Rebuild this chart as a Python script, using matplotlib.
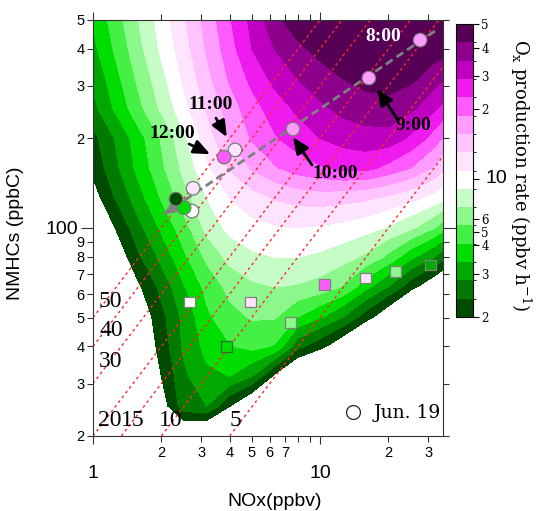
import matplotlib
matplotlib.use("Agg")
import matplotlib.pyplot as plt
import matplotlib.transforms as mtransforms
import numpy as np
from matplotlib.colors import ListedColormap, BoundaryNorm
from matplotlib.lines import Line2D
from matplotlib.ticker import FixedLocator, FixedFormatter

plt.rcParams["font.family"] = ["Liberation Sans", "DejaVu Sans"]
plt.rcParams["mathtext.fontset"] = "dejavuserif"

# grid of the isopleth field
NOX_GRID = [1.0, 1.26, 1.58, 2.0, 2.51, 3.16, 3.98, 5.01, 6.31, 7.94, 10.0, 12.6, 15.8, 20.0, 25.1, 31.6, 35.5]
NMHC_GRID = [20.0, 22.4, 25.2, 31.7, 39.9, 50.2, 63.2, 79.6, 100.2, 126.2, 158.9, 200.0, 251.8, 317.0, 399.0, 502.0]

# Ox production rate, as position on the colour scale
# (0 = 2 ppbv/h ... 16 = 50 ppbv/h, one step per colour band; below 0 = not shaded)
OX_SCALE = [
    [-8, -8, -8, -8, -8, -8, -8, -8, -8, -8, -8, -8, -8, -8, -8, -8, -8],
    [-7, -5, -3.5, -1.5, -0.1, -0.1, -1.5, -3, -4.5, -6, -7, -8, -8, -8, -8, -8, -8],
    [-6.6, -4.6, -2.6, -0.6, 1.6, 2.0, 0.05, -1.5, -3, -4.5, -6, -7, -8, -9, -10, -11, -11.5],
    [-5.4, -3.6, -1.8, 0.0, 1.8, 2.8, 3.0, 2.0, -0.3, -2, -3, -4.5, -6, -7.5, -9, -10, -10.5],
    [-4.6, -2.9, -1.2, 0.4, 2.2, 3.3, 3.9, 4.3, 3.9, 1.3, 0.3, -1, -2.5, -4, -5.5, -7, -7.5],
    [-4.1, -2.5, -0.9, 0.7, 2.3, 3.8, 4.7, 5.1, 5.1, 4.0, 3.1, 2.0, 0.5, -1.0, -2.5, -3.8, -4.5],
    [-3.4, -1.8, -0.2, 1.3, 2.9, 4.3, 5.3, 5.8, 6.0, 5.9, 5.6, 4.9, 3.3, 1.9, 0.3, -1.0, -1.8],
    [-2.3, -0.8, 0.8, 2.3, 3.8, 5.2, 6.3, 6.8, 7.0, 7.0, 6.8, 6.4, 5.8, 4.7, 3.2, 2.0, 1.2],
    [-1.5, 0.05, 1.7, 3.2, 4.6, 6.3, 7.3, 7.7, 7.9, 8.0, 7.9, 7.7, 7.4, 6.9, 6.2, 5.1, 4.3],
    [-0.5, 1.1, 2.6, 4.1, 5.6, 7.0, 8.0, 8.6, 9.1, 9.4, 9.5, 9.4, 9.2, 8.8, 8.3, 7.7, 7.2],
    [0.3, 1.8, 3.3, 4.8, 6.3, 7.8, 9.1, 10.1, 10.9, 11.5, 11.9, 12.2, 12.3, 11.7, 11.0, 9.9, 9.1],
    [0.7, 2.1, 3.6, 5.1, 6.8, 8.5, 10.0, 11.1, 11.9, 12.5, 13.0, 13.4, 13.6, 13.6, 12.8, 11.6, 10.8],
    [1.7, 3.2, 4.7, 6.2, 7.7, 9.1, 10.5, 11.6, 12.5, 13.2, 13.8, 14.3, 14.6, 14.7, 14.2, 13.2, 12.6],
    [2.2, 3.7, 5.2, 6.7, 8.2, 9.7, 11.1, 12.3, 13.3, 14.0, 14.6, 15.0, 15.3, 15.4, 15.2, 14.5, 14.0],
    [2.75, 4.2, 5.7, 7.2, 8.6, 10.1, 11.6, 13.0, 14.0, 14.8, 15.3, 15.6, 15.8, 15.8, 15.7, 15.5, 15.4],
    [3.1, 4.6, 6.0, 7.5, 8.9, 10.4, 11.9, 13.3, 14.8, 15.5, 15.8, 15.9, 15.9, 15.9, 15.9, 15.8, 15.7],
]

BAND_COLORS = [
    "#004b00", "#007a00", "#00a800", "#00dd00", "#44f044", "#8cf88c", "#c6fcc6", "#ffffff",
    "#ffe4ff", "#ffc4ff", "#ff9cff", "#ff5cff", "#ee1aee", "#c000c0", "#8c008c", "#560056",
]

# colour bar ticks (position on the colour scale) and their labels
CBAR_TICK_POS = [0, 2.36, 3.92, 4.64, 5.36, 7.55, 11.36, 13.18, 14.69, 16]
CBAR_TICK_LABELS = ["2", "3", "4", "5", "6", "", "2", "3", "4", "5"]
CBAR_TEN_POS = 7.55

# VOC/NOx ratio lines
RATIOS = [50, 40, 30, 20, 15, 10, 5]
RATIO_TEXT = ["50", "40", "30", "20", "15", "10", "5"]
RATIO_TEXT_NOX = [1.063, 1.063, 1.063, 1.052, 1.33, 1.953, 4.01]
RATIO_TEXT_NMHC = [56.4, 45.4, 35.5, 22.6, 22.6, 22.6, 22.6]

# Jun. 19 observations (circles)
CIRCLE_NOX = [27.6, 16.4, 7.6, 4.22, 3.78, 2.76, 2.73, 2.52, 2.32]
CIRCLE_NMHC = [428, 319, 215, 183, 173, 136, 114, 117, 125]
CIRCLE_OX = [10.3, 10.2, 10.4, 8.6, 11.4, 8.2, 7.5, 3.5, 0.5]

# other observations (squares)
SQUARE_NOX = [2.67, 3.89, 4.96, 7.43, 10.5, 15.9, 21.4, 30.8]
SQUARE_NMHC = [56.4, 40.1, 56.4, 48.3, 64.8, 67.9, 71.6, 75.1]
SQUARE_OX = [7.5, 3.5, 8.5, 5.5, 11.5, 8.3, 5.5, 2.5]

# time labels and arrows
TIME_TEXT = ["8:00", "9:00", "10:00", "11:00", "12:00"]
TIME_NOX = [18.95, 25.7, 11.65, 3.31, 2.23]
TIME_NMHC = [441.7, 221.8, 151.9, 259.0, 208.5]
TIME_COLOR = ["white", "black", "black", "black", "black"]
ARROW_TAIL_NOX = [22.06, 9.22, 3.48, 2.65]
ARROW_TAIL_NMHC = [230.6, 162.8, 234.0, 191.5]
ARROW_HEAD_NOX = [17.83, 7.6, 3.89, 3.28]
ARROW_HEAD_NMHC = [293.0, 202.0, 202.0, 177.0]

# evolution line (start, arrow tip)
TREND_NOX = [32.1, 2.03]
TREND_NMHC = [459.0, 110.6]

cmap = ListedColormap(BAND_COLORS)
norm = BoundaryNorm(np.arange(17), 16)

fig = plt.figure(figsize=(5.39, 5.11), dpi=100)
ax = fig.add_axes([0.1725, 0.1468, 0.6494, 0.8141])
cax = fig.add_axes([0.846, 0.3796, 0.0315, 0.5734])

cs = ax.contourf(NOX_GRID, NMHC_GRID, np.array(OX_SCALE), levels=np.arange(17),
                 cmap=cmap, norm=norm, zorder=1)

ax.set_xscale("log")
ax.set_yscale("log")
ax.set_xlim(1, 34.8)
ax.set_ylim(20, 500)

for r in RATIOS:
    ax.axline((1, r), (10, 10 * r), color="#ff2a2a", lw=1.0, linestyle=(0, (2, 2.3)), zorder=2)

for txt, x, y in zip(RATIO_TEXT, RATIO_TEXT_NOX, RATIO_TEXT_NMHC):
    ax.text(x, y, txt, fontsize=17, family="Liberation Serif", ha="left", va="center", zorder=5)

# evolution line with arrow head at the lower end
ax.plot(TREND_NOX, TREND_NMHC, color="#808080", lw=2, linestyle=(0, (3, 1.6)), zorder=3)
frac = 0.05
back = (TREND_NOX[1] * (TREND_NOX[0] / TREND_NOX[1]) ** frac,
        TREND_NMHC[1] * (TREND_NMHC[0] / TREND_NMHC[1]) ** frac)
ax.annotate("", xy=(TREND_NOX[1], TREND_NMHC[1]), xytext=back,
            arrowprops=dict(arrowstyle="-|>,head_length=0.9,head_width=0.35", color="#808080",
                            lw=2, shrinkA=0, shrinkB=0, mutation_scale=14), zorder=3)

square_edges = ["#808080", "#2f6f2f", "#808080", "#808080", "#808080", "#808080", "#808080", "#808080"]
ax.scatter(SQUARE_NOX, SQUARE_NMHC, c=SQUARE_OX, cmap=cmap, norm=norm, marker="s", s=62,
           edgecolors=square_edges, linewidths=0.9, zorder=4)
ax.scatter(CIRCLE_NOX, CIRCLE_NMHC, c=CIRCLE_OX, cmap=cmap, norm=norm, marker="o", s=95,
           edgecolors="#7a7a7a", linewidths=0.9, zorder=4)

for txt, x, y, col in zip(TIME_TEXT, TIME_NOX, TIME_NMHC, TIME_COLOR):
    ax.text(x, y, txt, fontsize=14, family="Liberation Serif", weight="bold", color=col,
            ha="center", va="center", zorder=6)

for tx, ty, hx, hy in zip(ARROW_TAIL_NOX, ARROW_TAIL_NMHC, ARROW_HEAD_NOX, ARROW_HEAD_NMHC):
    ax.annotate("", xy=(hx, hy), xytext=(tx, ty),
                arrowprops=dict(arrowstyle="-|>,head_length=0.7,head_width=0.3", color="black",
                                lw=2, shrinkA=0, shrinkB=0, mutation_scale=14), zorder=6)

# ticks
ax.xaxis.set_major_locator(FixedLocator([1, 10]))
ax.xaxis.set_major_formatter(FixedFormatter(["1", "10"]))
ax.xaxis.set_minor_locator(FixedLocator([2, 3, 4, 5, 6, 7, 8, 9, 20, 30]))
ax.xaxis.set_minor_formatter(FixedFormatter(["2", "3", "4", "5", "6", "7", "", "", "2", "3"]))
ax.yaxis.set_major_locator(FixedLocator([100]))
ax.yaxis.set_major_formatter(FixedFormatter(["100"]))
ax.yaxis.set_minor_locator(FixedLocator([20, 30, 40, 50, 60, 70, 80, 90, 200, 300, 400, 500]))
ax.yaxis.set_minor_formatter(FixedFormatter(["2", "3", "4", "5", "6", "7", "8", "9", "2", "3", "4", "5"]))

ax.tick_params(which="both", direction="out", top=True, right=True, width=0.8, color="#333333")
ax.tick_params(axis="x", which="major", length=6, pad=15, labelsize=14)
ax.tick_params(axis="x", which="minor", length=4, pad=3, labelsize=10.5)
ax.tick_params(axis="y", which="major", length=9, pad=2, labelsize=14)
ax.tick_params(axis="y", which="minor", length=4, pad=2, labelsize=10.5)
for sp in ax.spines.values():
    sp.set_linewidth(0.8)
    sp.set_color("#333333")

ax.set_xlabel("NOx(ppbv)", fontsize=14)
ax.xaxis.set_label_coords(0.52, -0.137)
ax.set_ylabel("NMHCs (ppbC)", fontsize=14)
ax.yaxis.set_label_coords(-0.197, 0.488)

# legend
handle = Line2D([], [], marker="o", linestyle="", markerfacecolor="white",
                markeredgecolor="#222222", markersize=10, markeredgewidth=0.9)
ax.legend([handle], ["Jun. 19"], loc="center right", bbox_to_anchor=(0.993, 0.055),
          frameon=False, handlelength=1.0, handletextpad=0.6, borderpad=0, borderaxespad=0,
          prop={"family": "DejaVu Serif", "size": 13.5})

# colour bar
cb = fig.colorbar(cs, cax=cax, ticks=CBAR_TICK_POS)
cb.set_ticklabels(CBAR_TICK_LABELS)
cb.outline.set_linewidth(0.8)
cax.tick_params(length=4, width=0.8, pad=2, labelsize=8.5)
for lab in cax.get_yticklabels():
    lab.set_family("DejaVu Serif")
blend = mtransforms.blended_transform_factory(cax.transAxes, cax.transData)
cax.text(1.72, CBAR_TEN_POS, "10", transform=blend, fontsize=14, ha="left", va="center")
fig.text(0.966, 0.6575, r"O$_\mathrm{x}$ production rate (ppbv h$^{-1}$)", rotation=270,
         ha="center", va="center", fontsize=13, family="DejaVu Serif")

fig.savefig("out.png", dpi=100)
